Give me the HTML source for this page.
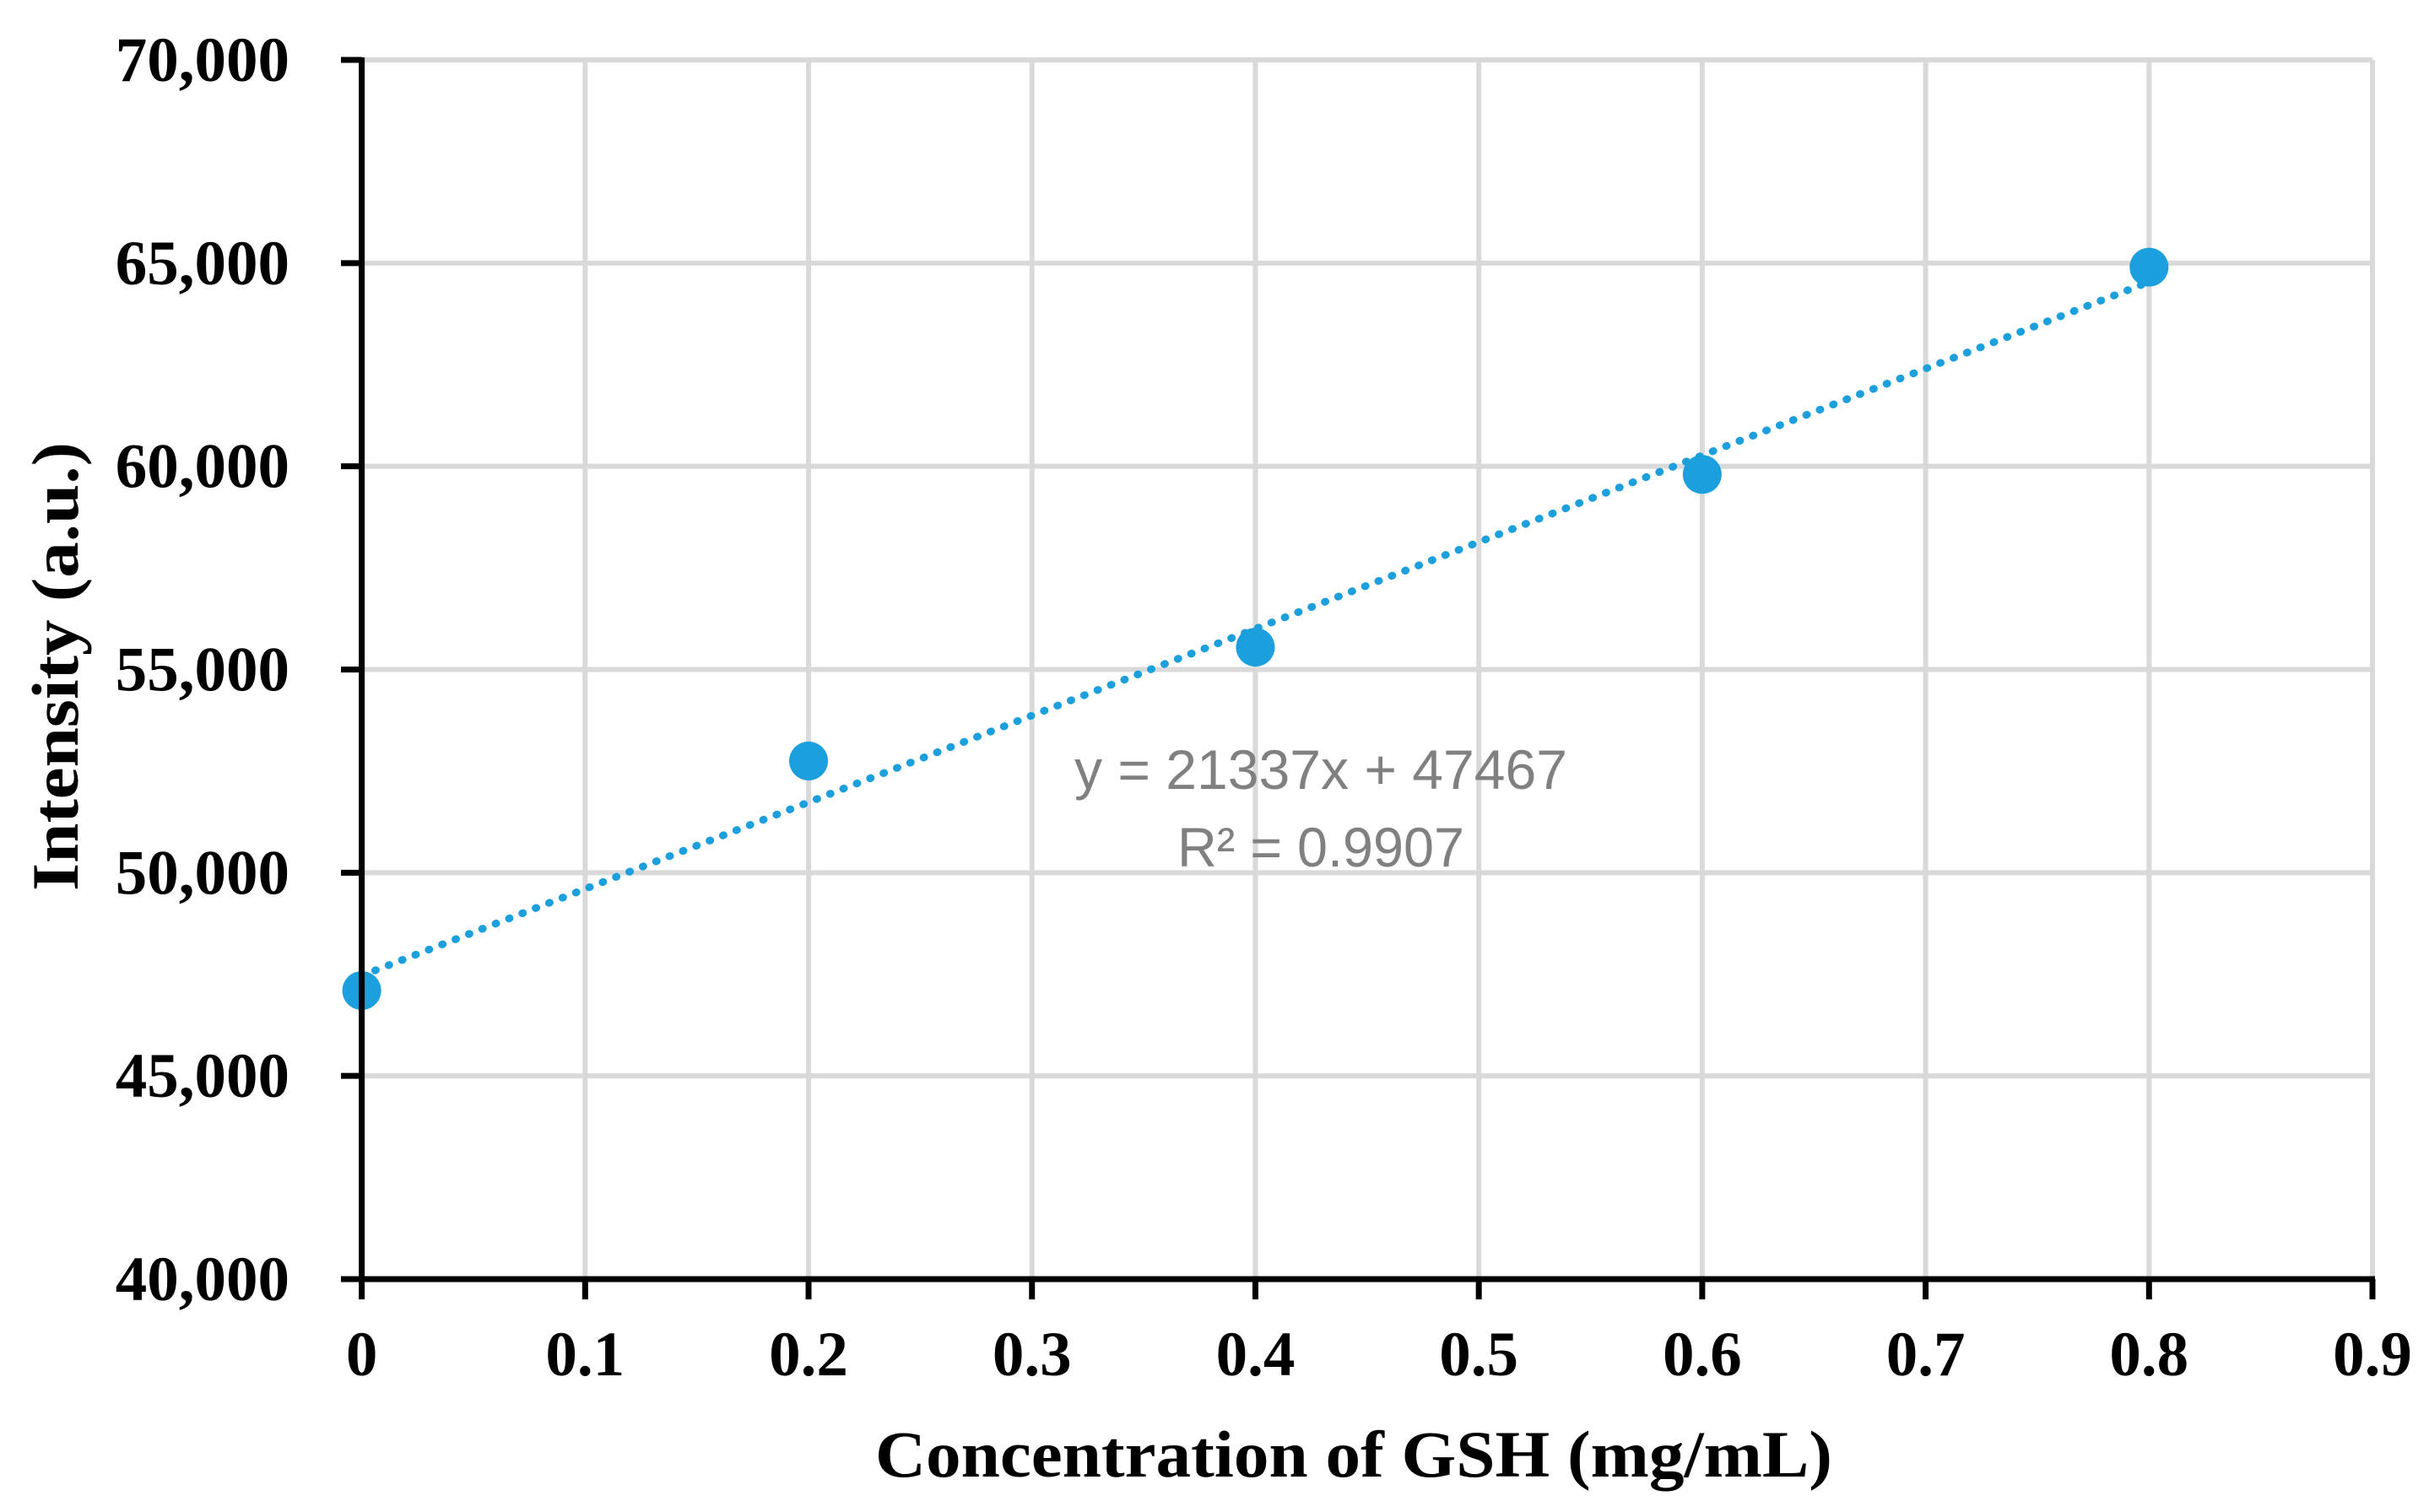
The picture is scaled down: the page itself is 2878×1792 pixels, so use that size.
<!DOCTYPE html>
<html><head><meta charset="utf-8"><style>
html,body{margin:0;padding:0;background:#fff;}
svg{display:block;}
</style></head><body>
<svg id="chart" width="2878" height="1792" viewBox="0 0 2878 1792" xmlns="http://www.w3.org/2000/svg">
<g id="grid"></g>
<g id="trend"></g>
<g id="points"></g>
<g id="axes"></g>
<text x="1604" y="1750" text-anchor="middle" font-family="Liberation Serif, serif" font-weight="bold" font-size="78" textLength="1134" lengthAdjust="spacingAndGlyphs">Concentration of GSH (mg/mL)</text>
<text transform="translate(92,790) rotate(-90)" text-anchor="middle" font-family="Liberation Serif, serif" font-weight="bold" font-size="78" textLength="532" lengthAdjust="spacingAndGlyphs">Intensity (a.u.)</text>
<text x="1565" y="935" text-anchor="middle" fill="#808080" font-family="Liberation Sans, sans-serif" font-size="66" textLength="584" lengthAdjust="spacingAndGlyphs">y = 21337x + 47467</text>
<text x="1565" y="1027" text-anchor="middle" fill="#808080" font-family="Liberation Sans, sans-serif" font-size="66" textLength="340" lengthAdjust="spacingAndGlyphs">R² = 0.9907</text>
</svg>
<script>
const xTicks = [0,0.1,0.2,0.3,0.4,0.5,0.6,0.7,0.8,0.9];
const xTickLabels = ["0","0.1","0.2","0.3","0.4","0.5","0.6","0.7","0.8","0.9"];
const yTicks = [40000,45000,50000,55000,60000,65000,70000];
const yTickLabels = ["40,000","45,000","50,000","55,000","60,000","65,000","70,000"];
const concentrations = [0,0.2,0.4,0.6,0.8];
const intensities = [47100,52750,55550,59800,64900];
const slope = [21337];
const intercept = [47467];

const X0=428.6, X1=2811, Y0=1516, Y1=71;
const sx = v => X0 + (v-0)/(0.9-0)*(X1-X0);
const sy = v => Y0 - (v-40000)/(70000-40000)*(Y0-Y1);
const NS="http://www.w3.org/2000/svg";
function mk(tag, attrs, parent){const e=document.createElementNS(NS,tag);for(const k in attrs)e.setAttribute(k,attrs[k]);parent.appendChild(e);return e;}
const grid=document.getElementById('grid'), axes=document.getElementById('axes'), pts=document.getElementById('points'), tr=document.getElementById('trend');

yTicks.forEach((v,i)=>{
  const y=sy(v);
  if(i>0){const g=mk('line',{x1:X0,x2:X1,y1:y,y2:y,stroke:'#d9d9d9','stroke-width':6},grid);
  
  }
  const t=mk('line',{x1:404,x2:X0,y1:y,y2:y,stroke:'#000','stroke-width':7},axes);
  
  
  const l=mk('text',{x:343,y:y+25,'text-anchor':'end','font-family':'Liberation Serif, serif','font-weight':'bold','font-size':75},axes);
  l.textContent=yTickLabels[i];
  
  
});
xTicks.forEach((v,i)=>{
  const x=sx(v);
  if(i>0){const g=mk('line',{x1:x,x2:x,y1:Y1,y2:Y0,stroke:'#d9d9d9','stroke-width':6},grid);
  
  }
  const t=mk('line',{x1:x,x2:x,y1:Y0,y2:Y0+24,stroke:'#000','stroke-width':7},axes);
  
  
  const l=mk('text',{x:x,y:1630,'text-anchor':'middle','font-family':'Liberation Serif, serif','font-weight':'bold','font-size':75},axes);
  l.textContent=xTickLabels[i];
  
  
});
const ya=mk('line',{x1:X0,x2:X0,y1:Y1-3,y2:Y0+3,stroke:'#000','stroke-width':7},axes);


const xa=mk('line',{x1:X0-3,x2:X1+3,y1:Y0,y2:Y0,stroke:'#000','stroke-width':7},axes);



const tx0=concentrations[0], tx1=concentrations[concentrations.length-1];
const tl=mk('line',{x1:sx(tx0),y1:sy(slope[0]*tx0+intercept[0]),x2:sx(tx1),y2:sy(slope[0]*tx1+intercept[0]),stroke:'#1b9fdd','stroke-width':9,'stroke-dasharray':'1 16','stroke-linecap':'round'},tr);



concentrations.forEach((c,i)=>{
  const p=mk('circle',{cx:sx(c),cy:sy(intensities[i]),r:23,fill:'#1b9fdd'},pts);
  
  
});
</script>
</body></html>
